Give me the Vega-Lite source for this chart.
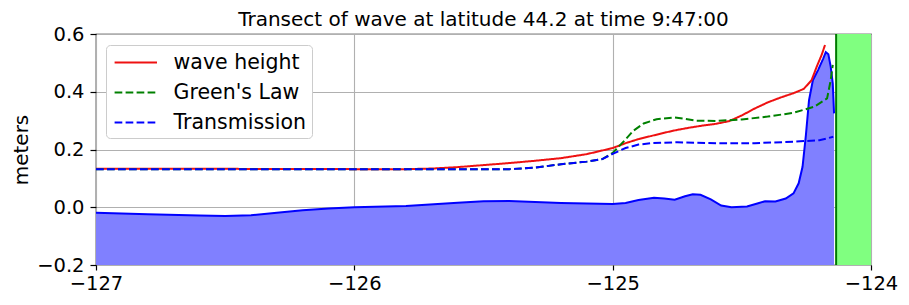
{
  "$schema": "https://vega.github.io/schema/vega-lite/v6.json",
  "width": 775,
  "height": 231,
  "autosize": {"type": "none"},
  "padding": {"left": 96, "top": 34, "right": 38, "bottom": 40},
  "background": "white",
  "config": {
    "font": "DejaVu Sans",
    "view": {"stroke": "black", "strokeWidth": 1.2},
    "axis": {
      "labelFontSize": 19.5,
      "labelColor": "black",
      "tickColor": "black",
      "tickSize": 6,
      "tickWidth": 1.2,
      "domain": false,
      "gridColor": "#b0b0b0",
      "gridWidth": 1.1,
      "titleColor": "black",
      "titleFontSize": 20,
      "titleFontWeight": "normal",
      "labelFlush": false,
      "zindex": 1
    }
  },
  "title": {
    "text": "Transect of wave at latitude 44.2 at time 9:47:00",
    "fontSize": 20,
    "fontWeight": "normal",
    "color": "black",
    "anchor": "middle",
    "frame": "group",
    "offset": -6
  },
  "datasets": {
    "surf": [
      {"lon": -127.0, "val": -0.019},
      {"lon": -126.8, "val": -0.024},
      {"lon": -126.6, "val": -0.029},
      {"lon": -126.5, "val": -0.030},
      {"lon": -126.4, "val": -0.028},
      {"lon": -126.3, "val": -0.019},
      {"lon": -126.2, "val": -0.010},
      {"lon": -126.1, "val": -0.004},
      {"lon": -126.0, "val": 0.0},
      {"lon": -125.8, "val": 0.004},
      {"lon": -125.6, "val": 0.016},
      {"lon": -125.5, "val": 0.021},
      {"lon": -125.4, "val": 0.022},
      {"lon": -125.3, "val": 0.018},
      {"lon": -125.2, "val": 0.015},
      {"lon": -125.0, "val": 0.011},
      {"lon": -124.95, "val": 0.015},
      {"lon": -124.9, "val": 0.025},
      {"lon": -124.84, "val": 0.033},
      {"lon": -124.8, "val": 0.030},
      {"lon": -124.76, "val": 0.026},
      {"lon": -124.72, "val": 0.038},
      {"lon": -124.69, "val": 0.045},
      {"lon": -124.66, "val": 0.043},
      {"lon": -124.62, "val": 0.027},
      {"lon": -124.58, "val": 0.006},
      {"lon": -124.54, "val": 0.0},
      {"lon": -124.48, "val": 0.003},
      {"lon": -124.44, "val": 0.013},
      {"lon": -124.41, "val": 0.021},
      {"lon": -124.37, "val": 0.020},
      {"lon": -124.33, "val": 0.030},
      {"lon": -124.3, "val": 0.048},
      {"lon": -124.28, "val": 0.083},
      {"lon": -124.265, "val": 0.140},
      {"lon": -124.252, "val": 0.250},
      {"lon": -124.24, "val": 0.370},
      {"lon": -124.225, "val": 0.440},
      {"lon": -124.205, "val": 0.475},
      {"lon": -124.185, "val": 0.515},
      {"lon": -124.175, "val": 0.537},
      {"lon": -124.165, "val": 0.530},
      {"lon": -124.156, "val": 0.487},
      {"lon": -124.148, "val": 0.429},
      {"lon": -124.143, "val": 0.325}
    ],
    "land": [{"x1": -124.135, "x2": -124.0}],
    "lines": [
      {"series": "wave height", "lon": -127.0, "val": 0.133},
      {"series": "wave height", "lon": -126.5, "val": 0.133},
      {"series": "wave height", "lon": -126.0, "val": 0.132},
      {"series": "wave height", "lon": -125.8, "val": 0.132},
      {"series": "wave height", "lon": -125.7, "val": 0.134},
      {"series": "wave height", "lon": -125.6, "val": 0.139},
      {"series": "wave height", "lon": -125.5, "val": 0.146},
      {"series": "wave height", "lon": -125.4, "val": 0.153},
      {"series": "wave height", "lon": -125.3, "val": 0.161},
      {"series": "wave height", "lon": -125.2, "val": 0.170},
      {"series": "wave height", "lon": -125.1, "val": 0.184},
      {"series": "wave height", "lon": -125.0, "val": 0.205},
      {"series": "wave height", "lon": -124.95, "val": 0.222},
      {"series": "wave height", "lon": -124.9, "val": 0.236},
      {"series": "wave height", "lon": -124.85, "val": 0.247},
      {"series": "wave height", "lon": -124.8, "val": 0.258},
      {"series": "wave height", "lon": -124.75, "val": 0.268},
      {"series": "wave height", "lon": -124.7, "val": 0.276},
      {"series": "wave height", "lon": -124.65, "val": 0.283},
      {"series": "wave height", "lon": -124.6, "val": 0.289},
      {"series": "wave height", "lon": -124.55, "val": 0.298},
      {"series": "wave height", "lon": -124.5, "val": 0.318},
      {"series": "wave height", "lon": -124.45, "val": 0.342},
      {"series": "wave height", "lon": -124.4, "val": 0.363},
      {"series": "wave height", "lon": -124.35, "val": 0.380},
      {"series": "wave height", "lon": -124.3, "val": 0.395},
      {"series": "wave height", "lon": -124.26, "val": 0.410},
      {"series": "wave height", "lon": -124.23, "val": 0.440},
      {"series": "wave height", "lon": -124.21, "val": 0.487},
      {"series": "wave height", "lon": -124.19, "val": 0.530},
      {"series": "wave height", "lon": -124.178, "val": 0.562},
      {"series": "Green's Law", "lon": -127.0, "val": 0.132},
      {"series": "Green's Law", "lon": -125.4, "val": 0.132},
      {"series": "Green's Law", "lon": -125.3, "val": 0.137},
      {"series": "Green's Law", "lon": -125.2, "val": 0.149},
      {"series": "Green's Law", "lon": -125.1, "val": 0.158},
      {"series": "Green's Law", "lon": -125.04, "val": 0.167},
      {"series": "Green's Law", "lon": -125.0, "val": 0.188},
      {"series": "Green's Law", "lon": -124.95, "val": 0.235},
      {"series": "Green's Law", "lon": -124.92, "val": 0.265},
      {"series": "Green's Law", "lon": -124.88, "val": 0.290},
      {"series": "Green's Law", "lon": -124.83, "val": 0.305},
      {"series": "Green's Law", "lon": -124.76, "val": 0.311},
      {"series": "Green's Law", "lon": -124.72, "val": 0.306},
      {"series": "Green's Law", "lon": -124.68, "val": 0.300},
      {"series": "Green's Law", "lon": -124.6, "val": 0.299},
      {"series": "Green's Law", "lon": -124.5, "val": 0.304},
      {"series": "Green's Law", "lon": -124.4, "val": 0.314},
      {"series": "Green's Law", "lon": -124.3, "val": 0.327},
      {"series": "Green's Law", "lon": -124.22, "val": 0.348},
      {"series": "Green's Law", "lon": -124.17, "val": 0.377},
      {"series": "Green's Law", "lon": -124.156, "val": 0.440},
      {"series": "Green's Law", "lon": -124.148, "val": 0.493},
      {"series": "Transmission", "lon": -127.0, "val": 0.132},
      {"series": "Transmission", "lon": -125.4, "val": 0.132},
      {"series": "Transmission", "lon": -125.3, "val": 0.137},
      {"series": "Transmission", "lon": -125.2, "val": 0.149},
      {"series": "Transmission", "lon": -125.1, "val": 0.158},
      {"series": "Transmission", "lon": -125.04, "val": 0.167},
      {"series": "Transmission", "lon": -125.0, "val": 0.185},
      {"series": "Transmission", "lon": -124.95, "val": 0.205},
      {"series": "Transmission", "lon": -124.9, "val": 0.217},
      {"series": "Transmission", "lon": -124.85, "val": 0.222},
      {"series": "Transmission", "lon": -124.75, "val": 0.225},
      {"series": "Transmission", "lon": -124.6, "val": 0.222},
      {"series": "Transmission", "lon": -124.45, "val": 0.222},
      {"series": "Transmission", "lon": -124.3, "val": 0.227},
      {"series": "Transmission", "lon": -124.2, "val": 0.232},
      {"series": "Transmission", "lon": -124.146, "val": 0.244}
    ]
  },
  "layer": [
    {
      "data": {"name": "surf"},
      "mark": {"type": "area", "fill": "#8080ff", "stroke": null, "clip": true},
      "encoding": {
        "x": {"field": "lon", "type": "quantitative",
              "scale": {"domain": [-127, -124], "nice": false, "zero": false},
              "axis": {"values": [-127, -126, -125, -124], "format": "d", "title": null, "grid": true, "labelPadding": 4, "tickSize": 5}},
        "y": {"field": "val", "type": "quantitative",
              "scale": {"domain": [-0.2, 0.6], "nice": false, "zero": false},
              "axis": {"values": [-0.2, 0, 0.2, 0.4, 0.6], "format": ".1f", "title": "meters", "grid": true, "labelPadding": 6, "titlePadding": 5}},
        "y2": {"datum": -0.2}
      }
    },
    {
      "data": {"name": "land"},
      "mark": {"type": "rect", "fill": "#80ff80"},
      "encoding": {
        "x": {"field": "x1", "type": "quantitative"},
        "x2": {"field": "x2"}
      }
    },
    {
      "data": {"name": "land"},
      "mark": {"type": "rule", "color": "#007a00", "strokeWidth": 2},
      "encoding": {
        "x": {"field": "x1", "type": "quantitative"}
      }
    },
    {
      "data": {"name": "surf"},
      "mark": {"type": "line", "color": "#0000ff", "strokeWidth": 2},
      "encoding": {
        "x": {"field": "lon", "type": "quantitative"},
        "y": {"field": "val", "type": "quantitative"}
      }
    },
    {
      "data": {"name": "lines"},
      "mark": {"type": "line", "strokeWidth": 2},
      "encoding": {
        "x": {"field": "lon", "type": "quantitative"},
        "y": {"field": "val", "type": "quantitative"},
        "color": {
          "field": "series", "type": "nominal", "sort": null,
          "scale": {"domain": ["wave height", "Green's Law", "Transmission"], "range": ["#ee1111", "#008000", "#0000ff"]},
          "legend": {
            "title": null,
            "orient": "none",
            "legendX": 10,
            "legendY": 11,
            "zindex": 2,
            "fillColor": "white",
            "strokeColor": "#cccccc",
            "cornerRadius": 4,
            "padding": 5,
            "rowPadding": 7,
            "symbolType": "M-0.774,0H2.913",
            "symbolSize": 529,
            "symbolStrokeWidth": 2,
            "labelFontSize": 20.5,
            "labelColor": "black",
            "labelOffset": 37.6,
            "labelLimit": 400
          }
        },
        "strokeDash": {
          "field": "series", "type": "nominal", "sort": null,
          "scale": {"domain": ["wave height", "Green's Law", "Transmission"], "range": [[1, 0], [7.7, 3.3], [7.7, 3.3]]},
          "legend": {
            "title": null,
            "orient": "none",
            "legendX": 10,
            "legendY": 11,
            "zindex": 2,
            "fillColor": "white",
            "strokeColor": "#cccccc",
            "cornerRadius": 4,
            "padding": 5,
            "rowPadding": 7,
            "symbolType": "M-0.774,0H2.913",
            "symbolSize": 529,
            "symbolStrokeWidth": 2,
            "labelFontSize": 20.5,
            "labelColor": "black",
            "labelOffset": 37.6,
            "labelLimit": 400
          }
        }
      }
    }
  ]
}
